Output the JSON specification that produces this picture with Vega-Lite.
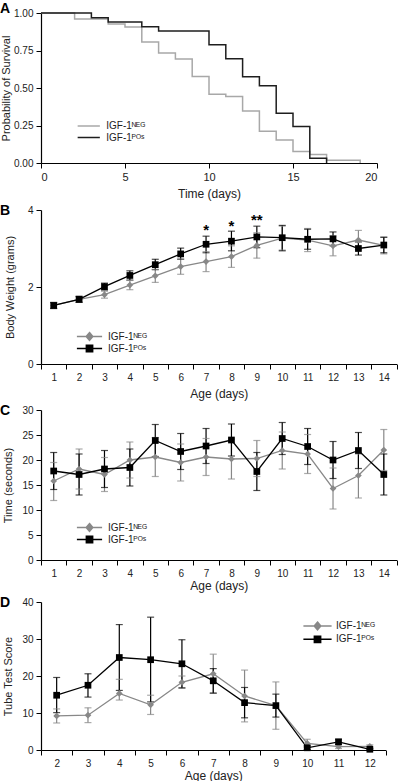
{
  "$schema": "https://vega.github.io/schema/vega-lite/v6.json",
  "padding": {"top": 2, "left": 0, "right": 0, "bottom": 0},
  "spacing": 5,
  "background": "white",
  "config": {
    "font": "Liberation Sans",
    "view": {"stroke": null},
    "axis": {"grid": false, "domainColor": "#000", "tickColor": "#000", "labelColor": "#222", "titleColor": "#222", "labelFontSize": 10, "titleFontSize": 12, "titleFontWeight": "normal", "tickSize": 5, "labelPadding": 3, "domainWidth": 1.2, "tickWidth": 1},
    "legend": {"labelFontSize": 10, "labelColor": "#222", "padding": 0, "rowPadding": -2, "symbolOffset": 9, "labelOffset": 13.5},
    "title": {"fontSize": 14, "fontWeight": "bold", "anchor": "start", "frame": "group", "dx": -41, "baseline": "alphabetic", "color": "#000"}
  },
  "datasets": {
    "surv": [
      {"g": "NEG", "t": 0, "p": 1}, {"g": "NEG", "t": 2, "p": 0.96}, {"g": "NEG", "t": 4, "p": 0.926}, {"g": "NEG", "t": 5, "p": 0.906}, {"g": "NEG", "t": 6, "p": 0.806}, {"g": "NEG", "t": 7, "p": 0.733}, {"g": "NEG", "t": 8, "p": 0.693}, {"g": "NEG", "t": 9, "p": 0.577}, {"g": "NEG", "t": 10, "p": 0.459}, {"g": "NEG", "t": 11, "p": 0.443}, {"g": "NEG", "t": 12, "p": 0.347}, {"g": "NEG", "t": 13, "p": 0.212}, {"g": "NEG", "t": 14, "p": 0.154}, {"g": "NEG", "t": 15, "p": 0.076}, {"g": "NEG", "t": 16, "p": 0.057}, {"g": "NEG", "t": 17, "p": 0.019}, {"g": "NEG", "t": 19, "p": 0},
      {"g": "POS", "t": 0, "p": 1}, {"g": "POS", "t": 3, "p": 0.969}, {"g": "POS", "t": 4, "p": 0.94}, {"g": "POS", "t": 6, "p": 0.909}, {"g": "POS", "t": 7, "p": 0.88}, {"g": "POS", "t": 10, "p": 0.788}, {"g": "POS", "t": 11, "p": 0.695}, {"g": "POS", "t": 12, "p": 0.575}, {"g": "POS", "t": 13, "p": 0.515}, {"g": "POS", "t": 14, "p": 0.332}, {"g": "POS", "t": 15, "p": 0.243}, {"g": "POS", "t": 16, "p": 0.031}, {"g": "POS", "t": 17, "p": 0}
    ],
    "bw": [
      {"g": "NEG", "age": 1, "m": 1.52, "lo": 1.45, "hi": 1.59}, {"g": "NEG", "age": 2, "m": 1.68, "lo": 1.61, "hi": 1.75}, {"g": "NEG", "age": 3, "m": 1.8, "lo": 1.71, "hi": 1.89}, {"g": "NEG", "age": 4, "m": 2.05, "lo": 1.93, "hi": 2.17}, {"g": "NEG", "age": 5, "m": 2.29, "lo": 2.12, "hi": 2.46}, {"g": "NEG", "age": 6, "m": 2.53, "lo": 2.33, "hi": 2.73}, {"g": "NEG", "age": 7, "m": 2.66, "lo": 2.4, "hi": 2.92}, {"g": "NEG", "age": 8, "m": 2.79, "lo": 2.51, "hi": 3.07}, {"g": "NEG", "age": 9, "m": 3.08, "lo": 2.75, "hi": 3.41}, {"g": "NEG", "age": 10, "m": 3.27, "lo": 2.96, "hi": 3.58}, {"g": "NEG", "age": 11, "m": 3.22, "lo": 2.92, "hi": 3.52}, {"g": "NEG", "age": 12, "m": 3.07, "lo": 2.81, "hi": 3.33}, {"g": "NEG", "age": 13, "m": 3.22, "lo": 2.97, "hi": 3.47}, {"g": "NEG", "age": 14, "m": 3.08, "lo": 2.86, "hi": 3.3},
      {"g": "POS", "age": 1, "m": 1.52, "lo": 1.44, "hi": 1.6}, {"g": "POS", "age": 2, "m": 1.68, "lo": 1.6, "hi": 1.76}, {"g": "POS", "age": 3, "m": 2.01, "lo": 1.92, "hi": 2.1}, {"g": "POS", "age": 4, "m": 2.3, "lo": 2.18, "hi": 2.42}, {"g": "POS", "age": 5, "m": 2.58, "lo": 2.45, "hi": 2.72}, {"g": "POS", "age": 6, "m": 2.86, "lo": 2.72, "hi": 3.01}, {"g": "POS", "age": 7, "m": 3.11, "lo": 2.89, "hi": 3.32}, {"g": "POS", "age": 8, "m": 3.19, "lo": 2.94, "hi": 3.45}, {"g": "POS", "age": 9, "m": 3.3, "lo": 3.02, "hi": 3.58}, {"g": "POS", "age": 10, "m": 3.28, "lo": 2.94, "hi": 3.6}, {"g": "POS", "age": 11, "m": 3.24, "lo": 2.98, "hi": 3.5}, {"g": "POS", "age": 12, "m": 3.25, "lo": 3.07, "hi": 3.43}, {"g": "POS", "age": 13, "m": 3.0, "lo": 2.83, "hi": 3.17}, {"g": "POS", "age": 14, "m": 3.09, "lo": 2.89, "hi": 3.29}
    ],
    "stars": [
      {"age": 7, "y": 3.55, "s": "*"}, {"age": 8, "y": 3.65, "s": "*"}, {"age": 9, "y": 3.83, "s": "**"}
    ],
    "tm": [
      {"g": "NEG", "age": 1, "m": 15.8, "lo": 11.9, "hi": 19.5}, {"g": "NEG", "age": 2, "m": 18.2, "lo": 14.2, "hi": 22.2}, {"g": "NEG", "age": 3, "m": 17.1, "lo": 13.7, "hi": 20.5}, {"g": "NEG", "age": 4, "m": 20.0, "lo": 16.4, "hi": 23.6}, {"g": "NEG", "age": 5, "m": 20.6, "lo": 16.7, "hi": 24.5}, {"g": "NEG", "age": 6, "m": 19.5, "lo": 15.8, "hi": 23.2}, {"g": "NEG", "age": 7, "m": 20.6, "lo": 16.9, "hi": 24.3}, {"g": "NEG", "age": 8, "m": 20.2, "lo": 16.2, "hi": 24.2}, {"g": "NEG", "age": 9, "m": 20.3, "lo": 16.7, "hi": 23.9}, {"g": "NEG", "age": 10, "m": 21.9, "lo": 18.2, "hi": 25.6}, {"g": "NEG", "age": 11, "m": 21.2, "lo": 17.3, "hi": 25.1}, {"g": "NEG", "age": 12, "m": 14.3, "lo": 10.2, "hi": 18.4}, {"g": "NEG", "age": 13, "m": 16.9, "lo": 12.4, "hi": 21.2}, {"g": "NEG", "age": 14, "m": 22.0, "lo": 17.9, "hi": 26.1},
      {"g": "POS", "age": 1, "m": 17.8, "lo": 14.1, "hi": 21.5}, {"g": "POS", "age": 2, "m": 17.1, "lo": 13.0, "hi": 21.2}, {"g": "POS", "age": 3, "m": 18.2, "lo": 14.5, "hi": 21.9}, {"g": "POS", "age": 4, "m": 18.5, "lo": 14.8, "hi": 22.2}, {"g": "POS", "age": 5, "m": 23.9, "lo": 20.7, "hi": 27.1}, {"g": "POS", "age": 6, "m": 21.7, "lo": 18.1, "hi": 25.3}, {"g": "POS", "age": 7, "m": 22.8, "lo": 19.3, "hi": 26.3}, {"g": "POS", "age": 8, "m": 24.0, "lo": 20.8, "hi": 27.2}, {"g": "POS", "age": 9, "m": 17.7, "lo": 13.9, "hi": 21.5}, {"g": "POS", "age": 10, "m": 24.3, "lo": 21.1, "hi": 27.5}, {"g": "POS", "age": 11, "m": 22.7, "lo": 19.1, "hi": 26.3}, {"g": "POS", "age": 12, "m": 20.0, "lo": 16.3, "hi": 23.7}, {"g": "POS", "age": 13, "m": 21.9, "lo": 18.3, "hi": 25.5}, {"g": "POS", "age": 14, "m": 17.1, "lo": 13.0, "hi": 21.2}
    ],
    "tt": [
      {"g": "NEG", "age": 2, "m": 9.2, "lo": 7.3, "hi": 11.1}, {"g": "NEG", "age": 3, "m": 9.4, "lo": 7.4, "hi": 11.4}, {"g": "NEG", "age": 4, "m": 15.3, "lo": 13.5, "hi": 19.1}, {"g": "NEG", "age": 5, "m": 12.2, "lo": 9.6, "hi": 14.8}, {"g": "NEG", "age": 6, "m": 18.3, "lo": 16.7, "hi": 20.0}, {"g": "NEG", "age": 7, "m": 20.6, "lo": 15.3, "hi": 25.9}, {"g": "NEG", "age": 8, "m": 14.6, "lo": 7.6, "hi": 21.6}, {"g": "NEG", "age": 9, "m": 12.0, "lo": 5.6, "hi": 18.4}, {"g": "NEG", "age": 10, "m": 1.8, "lo": 0.7, "hi": 2.9}, {"g": "NEG", "age": 11, "m": 0.9, "lo": 0.4, "hi": 1.4}, {"g": "NEG", "age": 12, "m": 1.0, "lo": 0.6, "hi": 1.4},
      {"g": "POS", "age": 2, "m": 14.8, "lo": 10.1, "hi": 19.6}, {"g": "POS", "age": 3, "m": 17.5, "lo": 14.3, "hi": 20.6}, {"g": "POS", "age": 4, "m": 25.0, "lo": 16.1, "hi": 33.9}, {"g": "POS", "age": 5, "m": 24.4, "lo": 13.0, "hi": 35.9}, {"g": "POS", "age": 6, "m": 23.3, "lo": 16.8, "hi": 29.8}, {"g": "POS", "age": 7, "m": 18.7, "lo": 15.4, "hi": 22.0}, {"g": "POS", "age": 8, "m": 12.8, "lo": 8.7, "hi": 16.9}, {"g": "POS", "age": 9, "m": 12.0, "lo": 8.9, "hi": 15.1}, {"g": "POS", "age": 10, "m": 0.6, "lo": 0.1, "hi": 1.1}, {"g": "POS", "age": 11, "m": 2.2, "lo": 1.5, "hi": 2.9}, {"g": "POS", "age": 12, "m": 0.2, "lo": 0.0, "hi": 0.4}
    ]
  },
  "resolve": {
    "scale": {"color": "independent", "x": "independent", "y": "independent"},
    "legend": {"color": "independent"}
  },
  "vconcat": [
    {
      "title": {"text": "A", "offset": -8},
      "width": 336,
      "height": 150,
      "data": {"name": "surv"},
      "mark": {"type": "line", "interpolate": "step-after", "strokeWidth": 1.5},
      "encoding": {
        "x": {"field": "t", "type": "quantitative", "scale": {"domain": [0, 20], "nice": false}, "axis": {"values": [0, 5, 10, 15, 20], "title": "Time (days)", "titlePadding": 6, "labelFontSize": 11}},
        "y": {"field": "p", "type": "quantitative", "scale": {"domain": [0, 1]}, "axis": {"values": [0, 0.25, 0.5, 0.75, 1], "format": ".2f", "title": "Probability of Survival", "titleFontSize": 11, "titlePadding": 2, "labelFontSize": 10}},
        "color": {"field": "g", "type": "nominal", "scale": {"domain": ["NEG", "POS"], "range": ["#a8a8a8", "#1e1e1e"]},
          "legend": {"orient": "none", "legendX": 35.25, "legendY": 108, "title": null, "symbolType": "M-3.7,0H3.7", "symbolSize": 36, "symbolStrokeWidth": 1.5, "symbolOffset": 7.5, "labelOffset": 12.5, "rowPadding": 1.5,
            "labelExpr": "datum.label === 'NEG' ? 'IGF-1ᴺᴱᴳ' : 'IGF-1ᴾᴼˢ'"}}
      }
    },
    {
      "title": {"text": "B", "offset": -13},
      "width": 355.5,
      "height": 154,
      "encoding": {
        "x": {"field": "age", "type": "ordinal", "scale": {"type": "band", "paddingInner": 0, "paddingOuter": 0}, "axis": {"tickBand": "extent", "labelAngle": 0, "title": "Age  (days)", "titlePadding": 6}}
      },
      "layer": [
        {
          "data": {"name": "bw"},
          "encoding": {
            "y": {"field": "m", "type": "quantitative", "scale": {"domain": [0, 4]}, "axis": {"values": [0, 1, 2, 3, 4], "title": "Body Weight (grams)", "titleFontSize": 11, "titlePadding": 12}},
            "color": {"field": "g", "type": "nominal", "scale": {"domain": ["NEG", "POS"], "range": ["#888888", "#000000"]},
              "legend": {"orient": "none", "legendX": 34.5, "legendY": 121.5, "title": null,
                "labelExpr": "datum.label === 'NEG' ? 'IGF-1ᴺᴱᴳ' : 'IGF-1ᴾᴼˢ'", "symbolSize": 36,
                "encode": {"symbols": {"update": {
                  "shape": {"signal": "datum.value === 'NEG' ? 'M-4.2,0H4.2M0,-1.3L1.1,0L0,1.3L-1.1,0Z' : 'M-4.2,0H4.2M-1.05,-1.05H1.05V1.05H-1.05Z'"},
                  "stroke": {"signal": "datum.value === 'NEG' ? '#888888' : '#000000'"},
                  "strokeWidth": {"value": 1.5},
                  "opacity": {"value": 1}}}}}}
          },
          "layer": [
            {"mark": {"type": "rule", "strokeWidth": 1.2}, "encoding": {"y": {"field": "lo", "type": "quantitative"}, "y2": {"field": "hi"}}},
            {"mark": {"type": "tick", "thickness": 1.2, "size": 7}, "encoding": {"y": {"field": "lo", "type": "quantitative"}}},
            {"mark": {"type": "tick", "thickness": 1.2, "size": 7}, "encoding": {"y": {"field": "hi", "type": "quantitative"}}},
            {"mark": {"type": "line", "strokeWidth": 1.3}},
            {"mark": {"type": "point", "filled": true, "size": 45, "opacity": 1}, "encoding": {"shape": {"condition": {"test": "datum.g === 'NEG'", "value": "diamond"}, "value": "square"}}}
          ]
        },
        {
          "data": {"name": "stars"},
          "mark": {"type": "text", "fontSize": 15, "fontWeight": "bold", "baseline": "alphabetic", "dy": 8, "color": "#000"},
          "encoding": {"y": {"field": "y", "type": "quantitative"}, "text": {"field": "s"}}
        }
      ]
    },
    {
      "title": {"text": "C", "offset": -13},
      "width": 355.5,
      "height": 150,
      "data": {"name": "tm"},
      "encoding": {
        "x": {"field": "age", "type": "ordinal", "scale": {"type": "band", "paddingInner": 0, "paddingOuter": 0}, "axis": {"tickBand": "extent", "labelAngle": 0, "title": "Age  (days)", "titlePadding": 2}},
        "y": {"field": "m", "type": "quantitative", "scale": {"domain": [0, 30]}, "axis": {"values": [0, 5, 10, 15, 20, 25, 30], "title": "Time (seconds)", "titleFontSize": 11, "titlePadding": 8.5}},
        "color": {"field": "g", "type": "nominal", "scale": {"domain": ["NEG", "POS"], "range": ["#888888", "#000000"]},
          "legend": {"orient": "none", "legendX": 34.5, "legendY": 112.5, "title": null,
            "labelExpr": "datum.label === 'NEG' ? 'IGF-1ᴺᴱᴳ' : 'IGF-1ᴾᴼˢ'", "symbolSize": 36,
            "encode": {"symbols": {"update": {
              "shape": {"signal": "datum.value === 'NEG' ? 'M-4.2,0H4.2M0,-1.3L1.1,0L0,1.3L-1.1,0Z' : 'M-4.2,0H4.2M-1.05,-1.05H1.05V1.05H-1.05Z'"},
              "stroke": {"signal": "datum.value === 'NEG' ? '#888888' : '#000000'"},
              "strokeWidth": {"value": 1.5},
              "opacity": {"value": 1}}}}}}
      },
      "layer": [
        {"mark": {"type": "rule", "strokeWidth": 1.2}, "encoding": {"y": {"field": "lo", "type": "quantitative"}, "y2": {"field": "hi"}}},
        {"mark": {"type": "tick", "thickness": 1.2, "size": 7}, "encoding": {"y": {"field": "lo", "type": "quantitative"}}},
        {"mark": {"type": "tick", "thickness": 1.2, "size": 7}, "encoding": {"y": {"field": "hi", "type": "quantitative"}}},
        {"mark": {"type": "line", "strokeWidth": 1.3}},
        {"mark": {"type": "point", "filled": true, "size": 45, "opacity": 1}, "encoding": {"shape": {"condition": {"test": "datum.g === 'NEG'", "value": "diamond"}, "value": "square"}}}
      ]
    },
    {
      "title": {"text": "D", "offset": -13},
      "width": 344.5,
      "height": 148,
      "data": {"name": "tt"},
      "encoding": {
        "x": {"field": "age", "type": "ordinal", "scale": {"type": "band", "paddingInner": 0, "paddingOuter": 0}, "axis": {"tickBand": "extent", "labelAngle": 0, "title": "Age (days)", "titlePadding": 2}},
        "y": {"field": "m", "type": "quantitative", "scale": {"domain": [0, 40]}, "axis": {"values": [0, 10, 20, 30, 40], "title": "Tube Test Score", "titleFontSize": 11, "titlePadding": 8.5}},
        "color": {"field": "g", "type": "nominal", "scale": {"domain": ["NEG", "POS"], "range": ["#888888", "#000000"]},
          "legend": {"orient": "none", "legendX": 262.5, "legendY": 19, "title": null, "rowPadding": -0.7,
            "labelExpr": "datum.label === 'NEG' ? 'IGF-1ᴺᴱᴳ' : 'IGF-1ᴾᴼˢ'", "symbolSize": 36,
            "encode": {"symbols": {"update": {
              "shape": {"signal": "datum.value === 'NEG' ? 'M-4.7,0H4.7M0,-1.3L1.1,0L0,1.3L-1.1,0Z' : 'M-4.7,0H4.7M-1.05,-1.05H1.05V1.05H-1.05Z'"},
              "stroke": {"signal": "datum.value === 'NEG' ? '#888888' : '#000000'"},
              "strokeWidth": {"value": 1.5},
              "opacity": {"value": 1}}}}}}
      },
      "layer": [
        {"mark": {"type": "rule", "strokeWidth": 1.2}, "encoding": {"y": {"field": "lo", "type": "quantitative"}, "y2": {"field": "hi"}}},
        {"mark": {"type": "tick", "thickness": 1.2, "size": 7}, "encoding": {"y": {"field": "lo", "type": "quantitative"}}},
        {"mark": {"type": "tick", "thickness": 1.2, "size": 7}, "encoding": {"y": {"field": "hi", "type": "quantitative"}}},
        {"mark": {"type": "line", "strokeWidth": 1.3}},
        {"mark": {"type": "point", "filled": true, "size": 45, "opacity": 1}, "encoding": {"shape": {"condition": {"test": "datum.g === 'NEG'", "value": "diamond"}, "value": "square"}}}
      ]
    }
  ]
}
